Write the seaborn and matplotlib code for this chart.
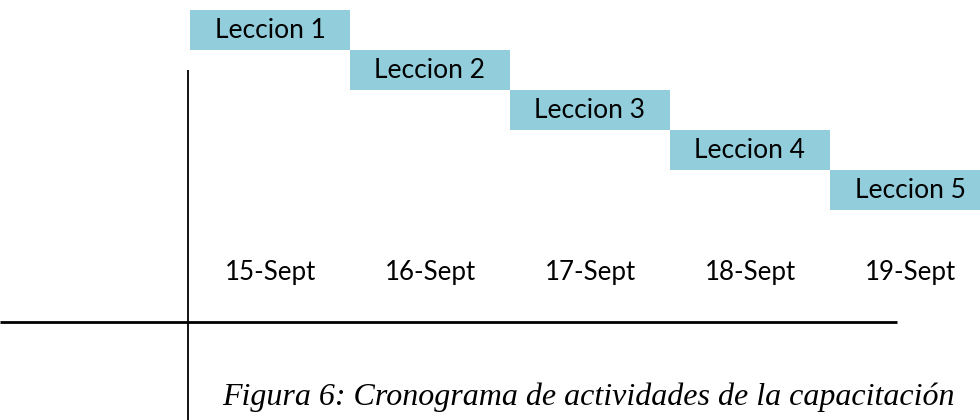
import numpy as np
import pandas as pd
import seaborn as sns
import matplotlib.pyplot as plt

# Data: one lesson per day
lessons = ['Leccion 1', 'Leccion 2', 'Leccion 3', 'Leccion 4', 'Leccion 5']
days = ['15-Sept', '16-Sept', '17-Sept', '18-Sept', '19-Sept']
start_day = [0, 1, 2, 3, 4]
duration = [1, 1, 1, 1, 1]
caption = 'Figura 6: Cronograma de actividades de la capacitación'

df = pd.DataFrame({'lesson': lessons, 'start': start_day, 'dur': duration})
df['row'] = np.arange(len(df))

sns.set_theme(style='white')
plt.rcParams['font.family'] = ['Lato', 'DejaVu Sans']

bar_color = '#92cddc'

fig = plt.figure(figsize=(9.8, 4.2), dpi=100)
ax = fig.add_axes([0, 0, 1, 1])

# Gantt bars
ax.barh(df['row'], df['dur'], left=df['start'], height=0.98,
        color=bar_color, edgecolor='none')
for _, r in df.iterrows():
    ax.text(r['start'] + r['dur'] / 2, r['row'] + 0.02, r['lesson'],
            ha='center', va='center', fontsize=19, color='black')

# Day labels under the bars
date_row = 6.06
for i, d in enumerate(days):
    ax.text(i + 0.5, date_row, d, ha='center', va='center',
            fontsize=18.6, color='black')

# Axes drawn as plain lines
ax.set_xlim(-190 / 160, (980 - 190) / 160)
ax.set_ylim(9.75, -0.75)
ax.hlines(7.3, -190 / 160, (897 - 190) / 160, color='black', lw=2)
ax.vlines(-0.015, 1.0, 9.75, color='black', lw=1.3)

ax.set_axis_off()

# Caption
fig.text(222 / 980, 1 - 405 / 420, caption, ha='left', va='baseline',
         fontsize=23, style='italic', family='Liberation Serif', color='black')

plt.savefig('out.png', dpi=100)
